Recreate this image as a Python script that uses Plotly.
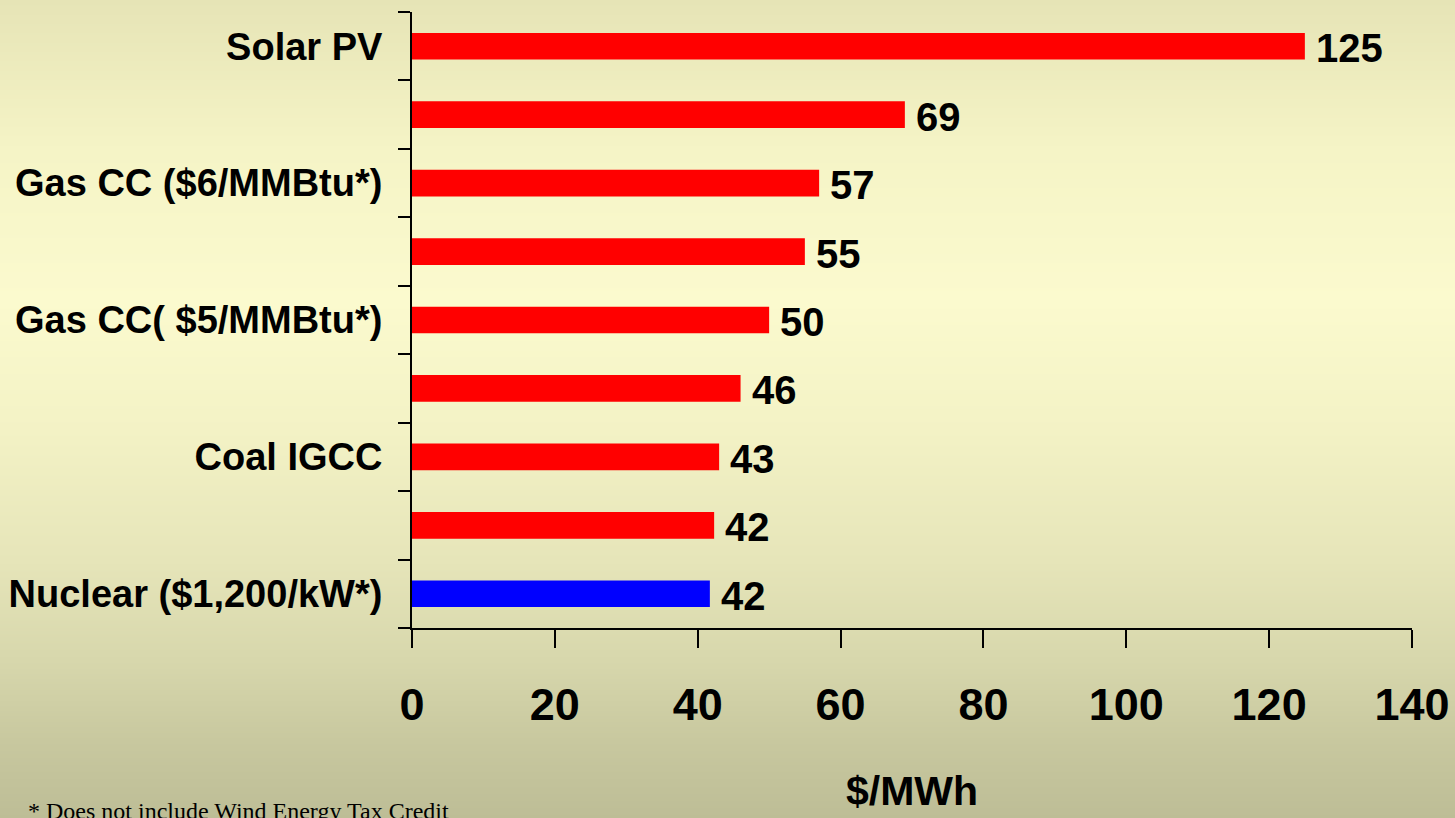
import plotly.graph_objects as go
import zlib, struct, base64

# ---------------- data ----------------
categories = ["Nuclear ($1,200/kW*)", "unlabeled_1", "Coal IGCC", "unlabeled_2",
              "Gas CC( $5/MMBtu*)", "unlabeled_3", "Gas CC ($6/MMBtu*)", "unlabeled_4",
              "Solar PV"]
tick_labels = ["Nuclear ($1,200/kW*)", "", "Coal IGCC", "", "Gas CC( $5/MMBtu*)", "",
               "Gas CC ($6/MMBtu*)", "", "Solar PV"]
values = [41.7, 42.3, 43, 46, 50, 55, 57, 69, 125]
bar_colors = ["#0000FF", "#FF0000", "#FF0000", "#FF0000", "#FF0000", "#FF0000",
              "#FF0000", "#FF0000", "#FF0000"]
x_ticks = [0, 20, 40, 60, 80, 100, 120, 140]
x_title = "$/MWh"
footnote = "* Does not include Wind Energy Tax Credit"

# ---------------- geometry ----------------
W, H = 1455, 818
L, R, T, B = 412, 43, 12, 190
PW, PH = W - L - R, H - T - B


def px_to_paper_x(px):
    return (px - L) / PW


def px_to_paper_y(py):
    return (H - B - py) / PH


# ---------------- gradient background (PNG) ----------------
stops = [(0, (230, 228, 182)), (150, (245, 244, 198)), (300, (251, 250, 206)),
         (430, (243, 242, 197)), (560, (230, 229, 185)), (660, (215, 215, 172)),
         (740, (200, 200, 159)), (818, (189, 189, 150))]


def color_at(py):
    py = min(max(py, 0), H)
    for (y0, c0), (y1, c1) in zip(stops[:-1], stops[1:]):
        if y0 <= py <= y1:
            t = (py - y0) / (y1 - y0)
            return tuple(int(round(a + (b - a) * t)) for a, b in zip(c0, c1))
    return stops[-1][1]


def make_png(w, h):
    raw = b""
    for yy in range(h):
        c = color_at(yy)
        raw += b"\x00" + bytes(c) * w
    def chunk(tag, data):
        return (struct.pack(">I", len(data)) + tag + data +
                struct.pack(">I", zlib.crc32(tag + data) & 0xffffffff))
    png = b"\x89PNG\r\n\x1a\n"
    png += chunk(b"IHDR", struct.pack(">IIBBBBB", w, h, 8, 2, 0, 0, 0))
    png += chunk(b"IDAT", zlib.compress(raw, 9))
    png += chunk(b"IEND", b"")
    return "data:image/png;base64," + base64.b64encode(png).decode()


bg_src = make_png(64, H)

NUM_FONT = "Liberation Sans, Arial, sans-serif"
LBL_FONT = "Liberation Sans, Arial, sans-serif"

fig = go.Figure()
fig.add_trace(go.Bar(
    x=values, y=categories, orientation="h",
    marker=dict(color=bar_colors, line=dict(width=0)),
    width=0.39, showlegend=False, hoverinfo="x+y",
))

annotations = []
for v, c in zip(values, categories):
    annotations.append(dict(
        x=v, y=c, xref="x", yref="y", text=f"{round(v):d}", showarrow=False,
        xanchor="left", yanchor="middle", xshift=9, yshift=-2,
        font=dict(family=NUM_FONT, size=40, color="black", weight="bold"),
    ))

annotations.append(dict(
    x=0.5, y=px_to_paper_y(766), xref="paper", yref="paper", text=x_title,
    showarrow=False, xanchor="center", yanchor="top",
    font=dict(family=NUM_FONT, size=41, color="black", weight="bold"),
))
annotations.append(dict(
    x=px_to_paper_x(26), y=px_to_paper_y(796), xref="paper", yref="paper",
    text=footnote, showarrow=False, xanchor="left", yanchor="top",
    font=dict(family="Liberation Serif, Times New Roman, serif", size=24, color="black"),
))

fig.update_layout(
    width=W, height=H, autosize=False,
    margin=dict(l=L, r=R, t=T, b=B, pad=0, autoexpand=False),
    paper_bgcolor="#EEEDC2", plot_bgcolor="rgba(0,0,0,0)",
    images=[dict(source=bg_src, xref="paper", yref="paper",
                 x=px_to_paper_x(-20), y=px_to_paper_y(0),
                 sizex=(W + 40) / PW, sizey=H / PH, sizing="stretch",
                 xanchor="left", yanchor="top", layer="below")],
    annotations=annotations,
    xaxis=dict(
        range=[0, 140], tickmode="array", tickvals=x_ticks,
        ticks="outside", ticklen=18, tickwidth=2, tickcolor="black",
        showline=True, linecolor="black", linewidth=2, automargin=False,
        showgrid=False, zeroline=False, ticklabelstandoff=18,
        tickfont=dict(family=NUM_FONT, size=45, color="black", weight="bold"),
        fixedrange=True,
    ),
    yaxis=dict(
        type="category", categoryorder="array", categoryarray=categories,
        range=[-0.5, len(categories) - 0.5], automargin=False,
        tickmode="array", tickvals=categories, ticktext=tick_labels,
        tickson="boundaries", ticks="outside", ticklen=12, tickwidth=2,
        tickcolor="black", showline=True, linecolor="black", linewidth=2,
        showgrid=False, zeroline=False, ticklabelstandoff=20,
        tickfont=dict(family=LBL_FONT, size=38, color="black", weight="bold"),
        fixedrange=True,
    ),
)

fig.write_html("out.html", config={"displayModeBar": False, "responsive": False},
               post_script="document.body.style.margin='0';")
